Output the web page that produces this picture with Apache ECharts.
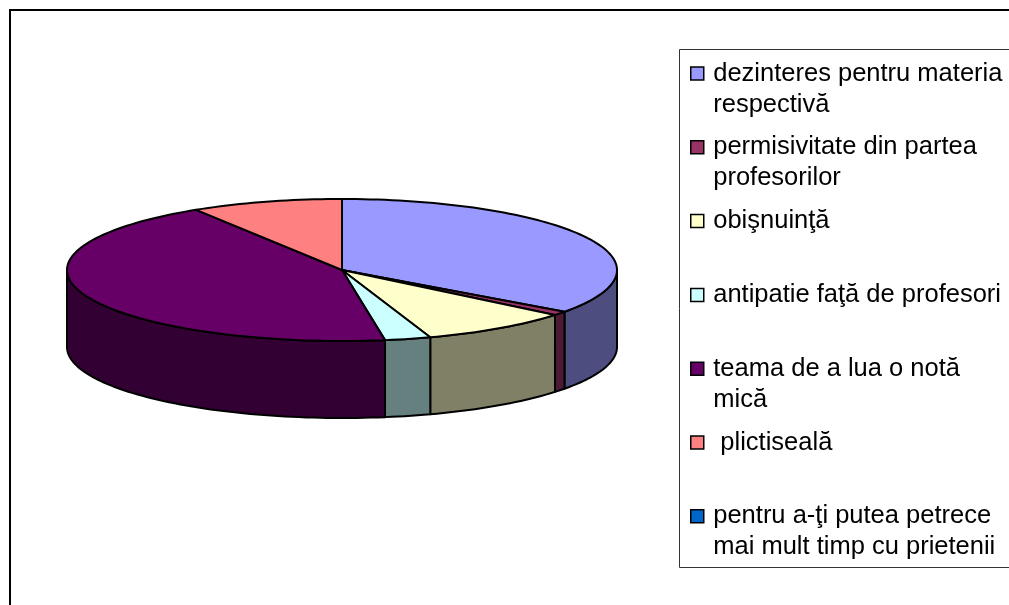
<!DOCTYPE html>
<html><head><meta charset="utf-8">
<style>html,body{margin:0;padding:0;background:#fff;overflow:hidden}#c{width:1009px;height:605px}</style>
<script src="https://cdn.jsdelivr.net/npm/echarts@6/dist/echarts.min.js"></script>
</head><body><div id="c"></div>
<script>
const categories = [
  'dezinteres pentru materia\nrespectivă',
  'permisivitate din partea\nprofesorilor',
  'obişnuinţă',
  'antipatie faţă de profesori',
  'teama de a lua o notă\nmică',
  ' plictiseală',
  'pentru a-ţi putea petrece\nmai mult timp cu prietenii'
];
const values = [35, 0.9, 8.9, 2.7, 43.6, 8.9, 0];
const topColors = ['#9999FF','#993366','#FFFFCC','#CCFFFF','#660066','#FF8080','#0066CC'];
const wallColors = ['#4D4D80','#4D1A33','#808066','#668080','#330033','#804040','#003366'];

const cx = 342, cy = 270, rx = 275, ry = 71, depth = 77;
const total = values.reduce((a, b) => a + b, 0);
const starts = [];
values.reduce((acc, v, i) => { starts[i] = acc; return acc + v; }, 0);
const toAngle = v => v / total * 360;
const pt = (deg, dz) => {
  const r = deg * Math.PI / 180;
  return [cx + rx * Math.sin(r), cy - ry * Math.cos(r) + dz];
};
const arc = (a, b, dz) => {
  const n = Math.max(2, Math.ceil((b - a) / 1.5));
  const out = [];
  for (let k = 0; k <= n; k++) out.push(pt(a + (b - a) * k / n, dz));
  return out;
};
const stroke = { stroke: '#000', lineWidth: 2, lineJoin: 'round' };

function makeRender(i) {
  return function () {
    const a = toAngle(starts[i]), b = toAngle(starts[i] + values[i]);
    const children = [];
    if (b <= a) return { type: 'group', children };
    const wa = Math.max(a, 90), wb = Math.min(b, 270);
    if (wb > wa) {
      const t = arc(wa, wb, 0), u = arc(wa, wb, depth).reverse();
      children.push({ type: 'polygon', shape: { points: t.concat(u) },
        style: Object.assign({ fill: wallColors[i] }, stroke) });
    }
    children.push({ type: 'polygon', z2: 5, shape: { points: [[cx, cy]].concat(arc(a, b, 0)) },
      style: Object.assign({ fill: topColors[i] }, stroke) });
    return { type: 'group', children };
  };
}

const chart = echarts.init(document.getElementById('c'), null, { renderer: 'canvas' });
chart.setOption({
  animation: false,
  backgroundColor: '#fff',
  graphic: [
    { type: 'rect', silent: true, z: -10, shape: { x: 10, y: 10, width: 1200, height: 800 },
      style: { fill: '#fff', stroke: '#000', lineWidth: 2 } },
    { type: 'rect', silent: true, z: -9, shape: { x: 679.5, y: 49.5, width: 500, height: 518 },
      style: { fill: '#fff', stroke: '#333', lineWidth: 1 } }
  ],
  legend: {
    orient: 'vertical', left: 685, top: 22, height: 800, width: 324,
    selectedMode: false, itemWidth: 22, itemHeight: 13, itemGap: -19.2,
    icon: 'path://M0 0H10V10H0Z', symbolKeepAspect: true,
    itemStyle: { borderColor: '#000', borderWidth: 1.5 },
    data: categories,
    formatter: n => n.includes('\n') ? '\n' + n : '\n' + n + '\n',
    textStyle: { fontFamily: 'Liberation Sans', fontSize: 25.5, color: '#000', lineHeight: 31 }
  },
  series: categories.map((name, i) => ({
    type: 'custom', name, coordinateSystem: 'none',
    data: [[values[i]]],
    itemStyle: { color: topColors[i] },
    renderItem: makeRender(i),
    silent: true
  }))
});
</script></body></html>
